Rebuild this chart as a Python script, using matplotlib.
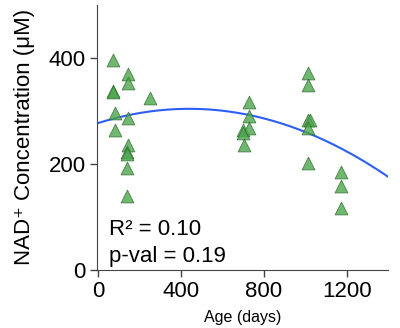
import numpy as np
import matplotlib
matplotlib.use("Agg")
import matplotlib.pyplot as plt

plt.rcParams['font.family'] = ['Liberation Sans', 'DejaVu Sans']

# ages (days) and NAD+ values
age = [74, 147, 147, 74, 74, 252, 83, 147, 83, 147, 142, 142, 139, 142,
       731, 731, 702, 731, 702, 706,
       1016, 1016, 1016, 1024, 1016, 1016,
       1174, 1174, 1174]
nad = [396, 369, 352, 338, 335, 324, 297, 286, 264, 236, 223, 219, 192, 140,
       316, 291, 264, 267, 258, 236,
       371, 349, 283, 283, 267, 201,
       184, 158, 116]
# quadratic trend as drawn: peak position, peak value, curvature
fit_peak_x = 440
fit_peak_y = 304
fit_curv = -1.39e-4
stats_lines = ["R\u00b2 = 0.10", "p-val = 0.19"]

fig = plt.figure(figsize=(4, 3.28), dpi=100)
ax = fig.add_axes([0.2425, 0.177, 0.7275, 0.808])

ax.scatter(age, nad, marker='^', s=85, color='#4ca64c', edgecolor='#2e6b2e',
           linewidth=0.6, alpha=0.8, zorder=3)

coef = [fit_curv, -2 * fit_curv * fit_peak_x, fit_peak_y + fit_curv * fit_peak_x ** 2]
xs = np.linspace(-5, 1400, 200)
ax.plot(xs, np.polyval(coef, xs), color='#2d5ff5', lw=1.5, zorder=2)

ax.text(54, 66, stats_lines[0], fontsize=16, va='baseline', ha='left')
ax.text(54, 15, stats_lines[1], fontsize=16, va='baseline', ha='left')

ax.set_xlim(-5, 1400)
ax.set_ylim(0, 500)
ax.set_xticks([0, 400, 800, 1200])
ax.set_yticks([0, 200, 400])
ax.tick_params(labelsize=16, length=5, width=1, direction='out', pad=3,
               color='#444444')
for s in ['left', 'bottom']:
    ax.spines[s].set_color('#444444')
ax.spines['top'].set_visible(False)
ax.spines['right'].set_visible(False)
ax.set_xlabel("Age (days)", fontsize=11.5, labelpad=6)
ax.set_ylabel("NAD\u207a Concentration (\u03bcM)", fontsize=16, labelpad=10)

fig.savefig("out.png", dpi=100)
